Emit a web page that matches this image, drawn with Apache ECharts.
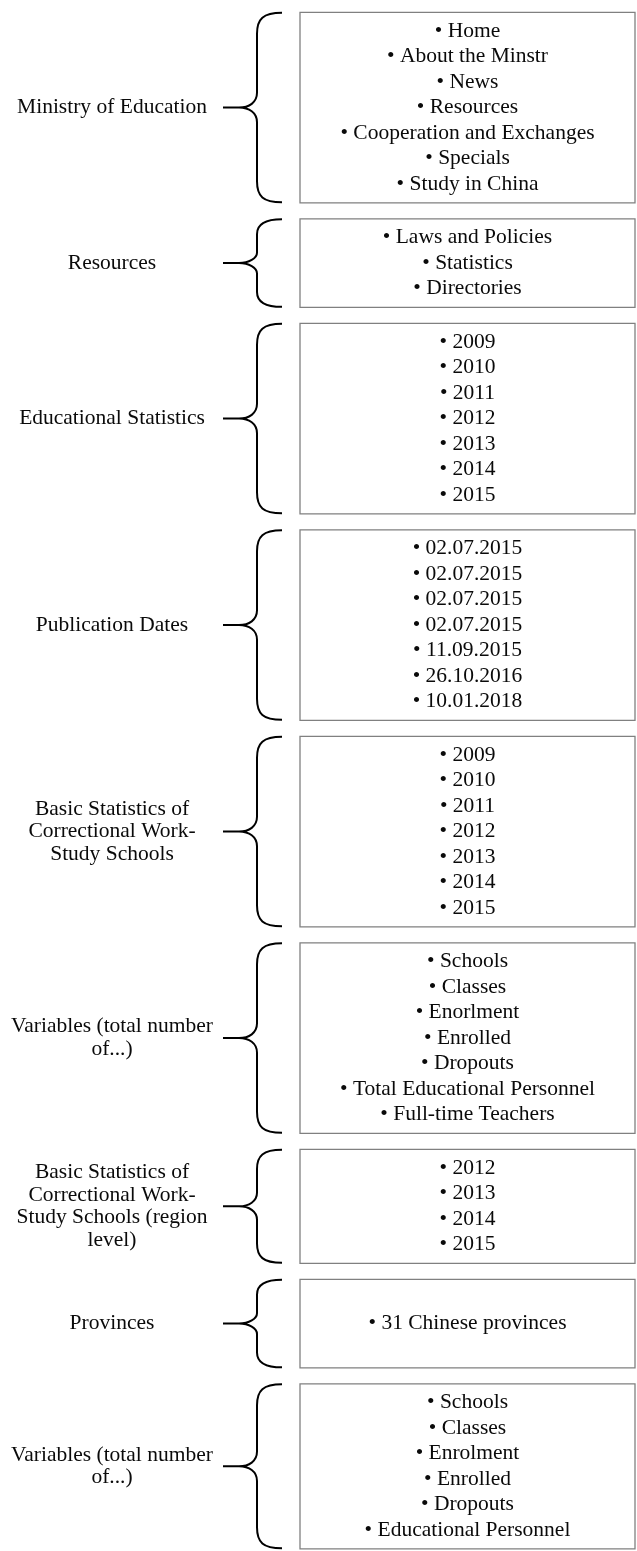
<!DOCTYPE html>
<html>
<head>
<meta charset="utf-8">
<title>Data collection structure</title>
<script src="https://cdn.jsdelivr.net/npm/echarts@6/dist/echarts.min.js"></script>
<style>
    html, body { margin: 0; padding: 0; background: #fff; }
    #main { width: 637px; height: 1551px; }
</style>
</head>
<body>
<div id="main"></div>
<script>
// labels on the left, one per level
var labels = [
    'Ministry of Education',
    'Resources',
    'Educational Statistics',
    'Publication Dates',
    'Basic Statistics of\nCorrectional Work-\nStudy Schools',
    'Variables (total number\nof...)',
    'Basic Statistics of\nCorrectional Work-\nStudy Schools (region\nlevel)',
    'Provinces',
    'Variables (total number\nof...)'
];

// box contents
var ministryItems = ['Home', 'About the Minstr', 'News', 'Resources', 'Cooperation and Exchanges', 'Specials', 'Study in China'];
var resourceItems = ['Laws and Policies', 'Statistics', 'Directories'];
var statYears = ['2009', '2010', '2011', '2012', '2013', '2014', '2015'];
var publicationDates = ['02.07.2015', '02.07.2015', '02.07.2015', '02.07.2015', '11.09.2015', '26.10.2016', '10.01.2018'];
var schoolYears = ['2009', '2010', '2011', '2012', '2013', '2014', '2015'];
var schoolVariables = ['Schools', 'Classes', 'Enorlment', 'Enrolled', 'Dropouts', 'Total Educational Personnel', 'Full-time Teachers'];
var regionYears = ['2012', '2013', '2014', '2015'];
var provinceItems = ['31 Chinese provinces'];
var regionVariables = ['Schools', 'Classes', 'Enrolment', 'Enrolled', 'Dropouts', 'Educational Personnel'];

var itemLists = [ministryItems, resourceItems, statYears, publicationDates, schoolYears,
    schoolVariables, regionYears, provinceItems, regionVariables];

// y axis counts text lines, x axis counts pixels
var LINE = 25.5;
var MIN_LINES = 3;
var PAD = 12 / LINE;
var GAP = 16 / LINE;
var START = 12.3 / LINE;

var rows = [];
var cursor = START;
for (var i = 0; i < labels.length; i++) {
    var slots = Math.max(itemLists[i].length, MIN_LINES);
    rows.push([i, cursor, cursor + slots + PAD]);
    cursor += slots + PAD + GAP;
}

var boxLeft = 300, boxRight = 635;
var braceTip = 223, braceMid = 257, braceEnd = 282;
var labelX = 112;
var font = 'Liberation Serif';
var fontSize = 21.5;

function renderRow(params, api) {
    var idx = api.value(0);
    var top = api.value(1);
    var bot = api.value(2);
    var items = itemLists[idx];
    var slots = Math.max(items.length, MIN_LINES);

    var p0 = api.coord([boxLeft, top]);
    var p1 = api.coord([boxRight, bot]);
    var cx = (p0[0] + p1[0]) / 2;
    var mid = (p0[1] + p1[1]) / 2;
    var children = [];

    children.push({
        type: 'rect',
        shape: { x: p0[0], y: p0[1], width: p1[0] - p0[0], height: p1[1] - p0[1] },
        style: { fill: 'none', stroke: '#808080', lineWidth: 1.3 }
    });

    for (var k = 0; k < items.length; k++) {
        var yLine = top + PAD / 2 + (slots - items.length) / 2 + k + 0.5;
        var pt = api.coord([0, yLine]);
        children.push({
            type: 'text',
            style: {
                text: '\u2022 ' + items[k], x: cx, y: pt[1],
                fill: '#0a0a0a', fontFamily: font, fontSize: fontSize,
                align: 'center', verticalAlign: 'middle'
            }
        });
    }

    // curly brace
    var xt = api.coord([braceTip, 0])[0];
    var xm = api.coord([braceMid, 0])[0];
    var xe = api.coord([braceEnd, 0])[0];
    var t = p0[1] + 0.5, b = p1[1] - 0.5;
    var r = Math.min(21, (b - t) * 0.17);
    var d = 'M' + xe + ' ' + t +
        ' C' + (xm + 6) + ' ' + t + ' ' + xm + ' ' + (t + 6) + ' ' + xm + ' ' + (t + r) +
        ' L' + xm + ' ' + (mid - r * 0.7) +
        ' C' + xm + ' ' + (mid - 5) + ' ' + (xm - 8) + ' ' + mid + ' ' + (xm - 18) + ' ' + mid +
        ' L' + xt + ' ' + mid +
        ' M' + (xm - 18) + ' ' + mid +
        ' C' + (xm - 8) + ' ' + mid + ' ' + xm + ' ' + (mid + 5) + ' ' + xm + ' ' + (mid + r * 0.7) +
        ' L' + xm + ' ' + (b - r) +
        ' C' + xm + ' ' + (b - 6) + ' ' + (xm + 6) + ' ' + b + ' ' + xe + ' ' + b;
    children.push({
        type: 'path',
        shape: { pathData: d },
        style: { fill: 'none', stroke: '#000', lineWidth: 2 }
    });

    children.push({
        type: 'text',
        style: {
            text: labels[idx], x: api.coord([labelX, 0])[0], y: mid,
            fill: '#0a0a0a', fontFamily: font, fontSize: fontSize, lineHeight: 22.5,
            align: 'center', verticalAlign: 'middle'
        }
    });

    return { type: 'group', children: children };
}

var myChart = echarts.init(document.getElementById('main'));

var option = {
    animation: false,
    backgroundColor: '#fff',
    grid: { left: 0, right: 0, top: 0, bottom: 0 },
    xAxis: { type: 'value', min: 0, max: 637, show: false },
    yAxis: { type: 'value', min: 0, max: 1551 / LINE, inverse: true, show: false },
    series: [{
        type: 'custom',
        renderItem: renderRow,
        data: rows,
        encode: { x: 0, y: [1, 2] },
        clip: false,
        silent: true
    }]
};

myChart.setOption(option);
</script>
</body>
</html>
